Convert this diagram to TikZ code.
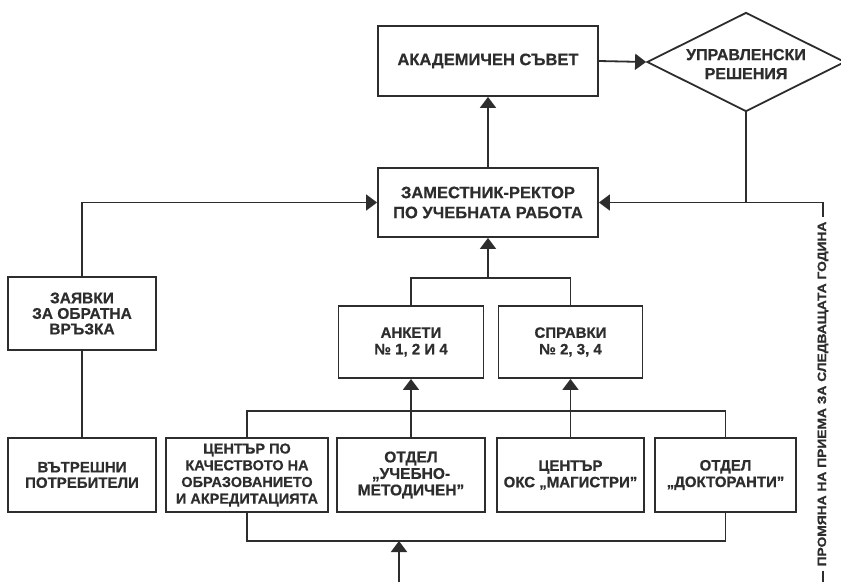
\documentclass[tikz,border=0pt]{standalone}
\usepackage{fontspec}
\setmainfont[BoldFeatures={FakeBold=0.6}]{Liberation Sans}
\usetikzlibrary{shapes.geometric,arrows.meta}
\definecolor{ink}{RGB}{45,45,45}
\begin{document}
\begin{tikzpicture}[x=1pt,y=-1pt,
  txt/.style={align=center, text=ink, font=\bfseries\fontsize{15}{16.5}\selectfont},
  big/.style={font=\bfseries\fontsize{16.5}{20}\selectfont},
  box/.style={txt, draw=ink, line width=1.8pt, inner sep=0pt},
  ln/.style={draw=ink, line width=1.8pt},
  arr/.style={ln, -{Triangle[length=11pt,width=16pt]}},
]
\useasboundingbox[fill=white] (0,0) rectangle (841,582);
% top
\node[box, big, minimum width=220pt, minimum height=70pt] (as) at (488,61) {АКАДЕМИЧЕН СЪВЕТ};
\node[diamond, draw=ink, line width=1.8pt, minimum width=198pt, minimum height=99pt, inner sep=0pt] (dm) at (746,62) {};
\node[txt, font=\bfseries\fontsize{16}{19}\selectfont] (dmt) at (746,64) {УПРАВЛЕНСКИ\\РЕШЕНИЯ};
\node[box, big, minimum width=220pt, minimum height=69pt] (zr) at (488,202.5) {ЗАМЕСТНИК-РЕКТОР\\ПО УЧЕБНАТА РАБОТА};
% middle
\node[box, font=\bfseries\fontsize{15.5}{15.5}\selectfont, minimum width=148pt, minimum height=73pt] (zv) at (82,313.5) {ЗАЯВКИ\\ЗА ОБРАТНА\\ВРЪЗКА};
\node[box, minimum width=145pt, minimum height=72pt] (an) at (411,342) {АНКЕТИ\\№ 1, 2 И 4};
\node[box, minimum width=144pt, minimum height=72pt] (sp) at (570.5,342) {СПРАВКИ\\№ 2, 3, 4};
% bottom row
\node[box, font=\bfseries\fontsize{15}{15.5}\selectfont, minimum width=148pt, minimum height=74pt] (vp) at (82,475) {ВЪТРЕШНИ\\ПОТРЕБИТЕЛИ};
\node[box, font=\bfseries\fontsize{14.5}{16.7}\selectfont, minimum width=162pt, minimum height=74pt] (kc) at (247,475) {ЦЕНТЪР ПО\\КАЧЕСТВОТО НА\\ОБРАЗОВАНИЕТО\\И АКРЕДИТАЦИЯТА};
\node[box, font=\bfseries\fontsize{15.5}{16.5}\selectfont, minimum width=148pt, minimum height=74pt] (um) at (411,475) {ОТДЕЛ\\„УЧЕБНО-\\МЕТОДИЧЕН”};
\node[box, minimum width=147pt, minimum height=74pt] (oks) at (570.5,475) {ЦЕНТЪР\\ОКС „МАГИСТРИ”};
\node[box, minimum width=141pt, minimum height=74pt] (dk) at (725.5,475) {ОТДЕЛ\\„ДОКТОРАНТИ”};
% rotated label
\node[txt, rotate=90, inner sep=4pt, font=\bfseries\fontsize{12}{13}\selectfont\addfontfeature{FakeStretch=1.15}] (pr) at (823,394) {ПРОМЯНА НА ПРИЕМА ЗА СЛЕДВАЩАТА ГОДИНА};
% coordinates
\coordinate (rc) at (823,202.5);
\coordinate (rb) at (823,582);
\coordinate (j1) at (488,278);
\coordinate (ub) at (488,411);
\coordinate (lb) at (399,541);
\coordinate (bt) at (399,582);
% connectors
\draw[arr] (zr) -- (as);
\draw[arr] (as.east) -- (dm.west);
\draw[arr] (dm.south) |- (zr.east);
\draw[ln] (dm.south |- zr.east) -- (rc) -- (pr.east);
\draw[ln] (pr.west) -- (rb);
\draw[arr] (zv.north) |- (zr.west);
\draw[ln] (zv) -- (vp);
\draw[ln] (an.north) |- (j1) -| (sp.north);
\draw[arr] (j1) -- (zr.south);
\draw[ln] (kc.north) |- (ub) -| (dk.north);
\draw[arr] (um) -- (an);
\draw[arr] (oks) -- (sp);
\draw[ln] (kc.south) |- (lb) -| (dk.south);
\draw[arr] (bt) -- (lb);
\end{tikzpicture}
\end{document}
